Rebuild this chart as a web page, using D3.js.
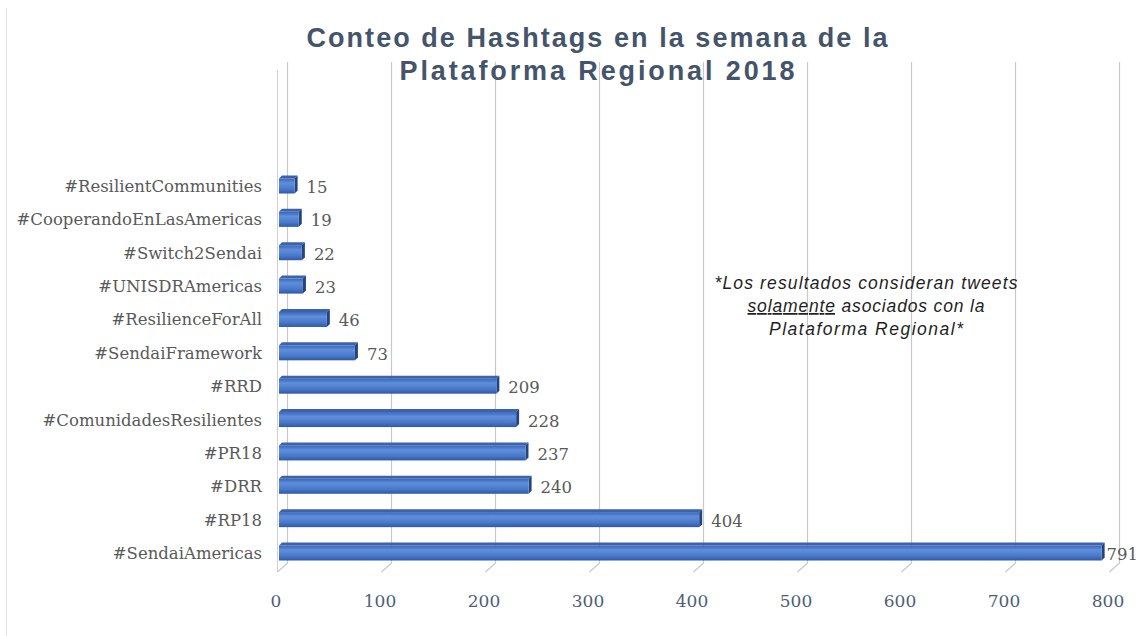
<!DOCTYPE html>
<html>
<head>
<meta charset="utf-8">
<script src="https://cdn.jsdelivr.net/npm/d3@7"></script>
<style>
  html, body { margin: 0; padding: 0; background: #fff; }
  svg { display: block; }
</style>
</head>
<body>
<svg id="chart" width="1139" height="636"></svg>
<script>
// hashtag counts, top to bottom as drawn
var hashtags = ["#ResilientCommunities", "#CooperandoEnLasAmericas", "#Switch2Sendai", "#UNISDRAmericas",
                "#ResilienceForAll", "#SendaiFramework", "#RRD", "#ComunidadesResilientes",
                "#PR18", "#DRR", "#RP18", "#SendaiAmericas"];
var counts = [15, 19, 22, 23, 46, 73, 209, 228, 237, 240, 404, 791];
var ticks = [0, 100, 200, 300, 400, 500, 600, 700, 800];
var titleLines = ["Conteo de Hashtags en la semana de la", "Plataforma Regional 2018"];

var svg = d3.select("#chart");
var W = 1139, H = 636;

// depth of the 3d floor / walls
var depthX = 10, depthY = -9;
var barDepth = 3;

var x = d3.scaleLinear().domain([0, 800]).range([277, 1109]);
var y = d3.scalePoint().domain(hashtags).range([186, 553]);
var barH = 15;

var defs = svg.append("defs");
var grad = defs.append("linearGradient")
    .attr("id", "barFront")
    .attr("x1", 0).attr("y1", 0).attr("x2", 0).attr("y2", 1);
grad.append("stop").attr("offset", "0%").attr("stop-color", "#3a66b8");
grad.append("stop").attr("offset", "30%").attr("stop-color", "#5f8fdc");
grad.append("stop").attr("offset", "70%").attr("stop-color", "#4a78c9");
grad.append("stop").attr("offset", "100%").attr("stop-color", "#2d58a6");

// outer frame
svg.append("line")
    .attr("x1", 6.5).attr("x2", 6.5)
    .attr("y1", 8).attr("y2", H)
    .attr("stroke", "#e3e3e3").attr("stroke-width", 1);

// gridlines on back wall + floor diagonals
var grid = svg.append("g").attr("class", "grid");
ticks.forEach(function(t) {
    var bx = Math.round(x(t) + depthX) + 0.5;
    grid.append("path")
        .attr("d", "M" + bx + ",62 L" + bx + "," + (572 + depthY) + " L" + (x(t) + 0.5) + ",572")
        .attr("fill", "none")
        .attr("stroke", "#c8c8c8")
        .attr("stroke-width", 1.2);
});
// side wall front edge
grid.append("line")
    .attr("x1", x(0) + 0.5).attr("x2", x(0) + 0.5)
    .attr("y1", 70).attr("y2", 572)
    .attr("stroke", "#d0d0d0").attr("stroke-width", 1);

// title (stretched a bit like the original)
var titleWidths = [581, 395];
svg.append("g").selectAll("text")
    .data(titleLines)
    .join("text")
    .attr("x", 597)
    .attr("y", function(d, i) { return 47 + i * 33; })
    .attr("text-anchor", "middle")
    .attr("font-family", "Liberation Sans, Arial, sans-serif")
    .attr("font-weight", "bold")
    .attr("font-size", 27)
    .attr("textLength", function(d, i) { return titleWidths[i]; })
    .attr("lengthAdjust", "spacing")
    .attr("fill", "#44546a")
    .text(function(d) { return d; });

// bars
var bars = svg.append("g").selectAll("g")
    .data(hashtags)
    .join("g");

bars.each(function(h, i) {
    var g = d3.select(this);
    var x0 = x(0) + 2, x1 = x(counts[i]) + 2;
    var yc = y(h), yt = yc - barH / 2, yb = yc + barH / 2;
    // top face
    g.append("path")
        .attr("d", "M" + x0 + "," + yt + " L" + (x0 + barDepth) + "," + (yt - barDepth) +
                   " L" + (x1 + barDepth) + "," + (yt - barDepth) + " L" + x1 + "," + yt + "Z")
        .attr("fill", "#3b62aa");
    // end face
    g.append("path")
        .attr("d", "M" + x1 + "," + yt + " L" + (x1 + barDepth) + "," + (yt - barDepth) +
                   " L" + (x1 + barDepth) + "," + (yb - barDepth) + " L" + x1 + "," + yb + "Z")
        .attr("fill", "#23457f");
    // front face
    g.append("rect")
        .attr("x", x0).attr("y", yt)
        .attr("width", x1 - x0).attr("height", barH)
        .attr("fill", "url(#barFront)");
    // value label
    var lbl = g.append("text")
        .attr("x", x1 + barDepth + 9)
        .attr("y", yc + 7)
        .attr("font-family", "DejaVu Serif, serif")
        .attr("font-size", 16.5)
        .attr("fill", "#595959")
        .text(counts[i]);
    // keep the long one inside the picture
    var tw = lbl.node().getComputedTextLength();
    if (x1 + barDepth + 9 + tw > W - 1) lbl.attr("x", W - 1 - tw);
});

// category labels
svg.append("g").selectAll("text")
    .data(hashtags)
    .join("text")
    .attr("x", 262)
    .attr("y", function(d) { return y(d) + 6; })
    .attr("text-anchor", "end")
    .attr("font-family", "DejaVu Serif, serif")
    .attr("font-size", 16.5)
    .attr("fill", "#595959")
    .text(function(d) { return d; });

// x tick labels
svg.append("g").selectAll("text")
    .data(ticks)
    .join("text")
    .attr("x", function(d) { return x(d) - 1; })
    .attr("y", 607)
    .attr("text-anchor", "middle")
    .attr("font-family", "DejaVu Serif, serif")
    .attr("font-size", 17)
    .attr("fill", "#4e5d78")
    .text(function(d) { return d; });

// note
var note = svg.append("text")
    .attr("text-anchor", "middle")
    .attr("font-family", "Liberation Sans, Arial, sans-serif")
    .attr("font-style", "italic")
    .attr("font-size", 17.5)
    .attr("fill", "#1f1f1f");
note.append("tspan").attr("x", 866).attr("y", 289)
    .attr("textLength", 303).attr("lengthAdjust", "spacing")
    .text("*Los resultados consideran tweets");
var l2 = note.append("tspan").attr("x", 866).attr("y", 312)
    .attr("textLength", 237).attr("lengthAdjust", "spacing");
l2.append("tspan").attr("text-decoration", "underline").text("solamente");
l2.append("tspan").text(" asociados con la");
note.append("tspan").attr("x", 866).attr("y", 335)
    .attr("textLength", 194).attr("lengthAdjust", "spacing")
    .text("Plataforma Regional*");
</script>
</body>
</html>
